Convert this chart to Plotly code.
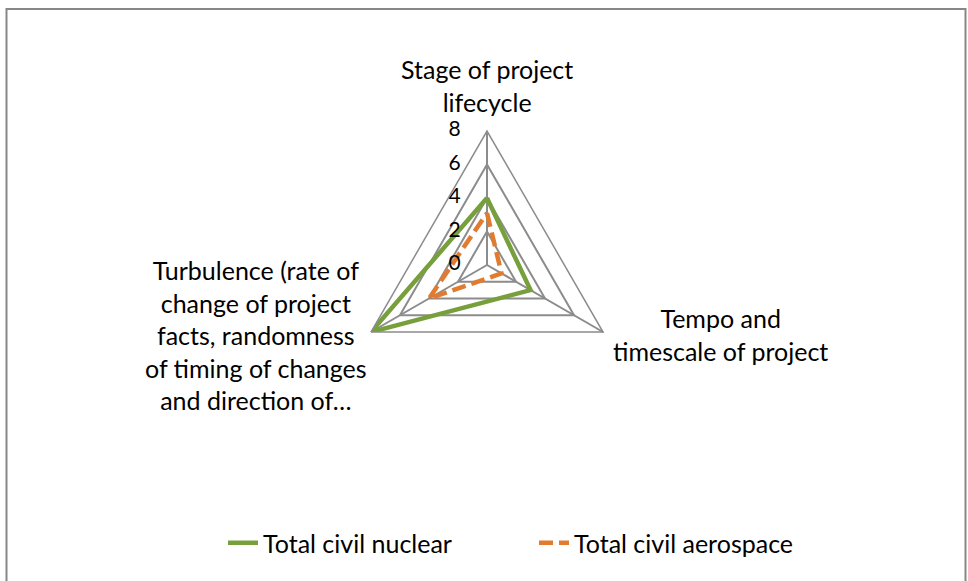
import plotly.graph_objects as go

categories = ["Stage of project lifecycle",
              "Tempo and timescale of project",
              "Turbulence (rate of change of project facts, randomness of timing of changes and direction of…"]
category_labels = ["Stage of project<br>lifecycle",
                   "Tempo and<br>timescale of project",
                   "Turbulence (rate of<br>change of project<br>facts, randomness<br>of timing of changes<br>and direction of…"]
nuclear = [4, 3, 8]
aerospace = [3.1, 1, 4]
radial_ticks = [0, 2, 4, 6, 8]
radial_tick_labels = ["0", "2", "4", "6", "8"]

FONT = "Lato"
GRID = "#8c8c8c"

fig = go.Figure()
fig.add_trace(go.Scatterpolar(
    r=nuclear + nuclear[:1], theta=categories + categories[:1],
    mode="lines", name="Total civil nuclear",
    line=dict(color="#77a03c", width=4.5)))
fig.add_trace(go.Scatterpolar(
    r=aerospace + aerospace[:1], theta=categories + categories[:1],
    mode="lines", name="Total civil aerospace",
    line=dict(color="#e07b30", width=4.5, dash="14px,6px")))
# radial tick labels drawn through the polar scale, to the left of the vertical spoke
# (the centre point is nudged by a negligible epsilon so plotly does not drop it)
fig.add_trace(go.Scatterpolar(
    r=[max(v, 1e-3) for v in radial_ticks], theta=[categories[0]] * len(radial_ticks),
    mode="text", text=[t + "\u2002\u2002\u2009\u2009" for t in radial_tick_labels],
    textposition="middle left", textfont=dict(family=FONT, size=21, color="black"),
    cliponaxis=False, showlegend=False, hoverinfo="skip"))

cx, cy, R = 487, 265, 134
W, H = 968, 581

label_pos = [(487, 86), (720, 334), (256, 335)]
annotations = []
for text, (px, py) in zip(category_labels, label_pos):
    annotations.append(dict(text=text, x=px / W, y=(H - py) / H, xref="paper", yref="paper",
                            xanchor="center", yanchor="middle", align="center", showarrow=False,
                            font=dict(family=FONT, size=25, color="black")))

fig.update_layout(
    width=W, height=H,
    margin=dict(l=0, r=0, t=0, b=0),
    paper_bgcolor="white", plot_bgcolor="white",
    font=dict(family=FONT, size=25, color="black"),
    polar=dict(
        domain=dict(x=[(cx - R) / W, (cx + R) / W],
                    y=[(H - cy - R) / H, (H - cy + R) / H]),
        gridshape="linear",
        bgcolor="white",
        angularaxis=dict(direction="clockwise", rotation=90,
                         linecolor=GRID, linewidth=1.5,
                         gridcolor=GRID, gridwidth=1.5,
                         showticklabels=False, ticks=""),
        radialaxis=dict(range=[0, 8], tickvals=radial_ticks,
                        angle=90, showticklabels=False,
                        showline=False, gridcolor=GRID, gridwidth=1.5,
                        ticks=""),
    ),
    annotations=annotations,
    legend=dict(orientation="h", x=223 / W, xanchor="left", y=(H - 543) / H, yanchor="middle",
                font=dict(family=FONT, size=25), entrywidth=266),
    shapes=[dict(type="rect", xref="paper", yref="paper",
                 x0=6.5 / W, x1=965.5 / W, y0=-0.05, y1=(H - 9) / H,
                 line=dict(color="#878787", width=2))],
)
fig.write_html("out.html", config={"displayModeBar": False},
               post_script="document.body.style.margin='0';document.body.style.overflow='hidden';")
